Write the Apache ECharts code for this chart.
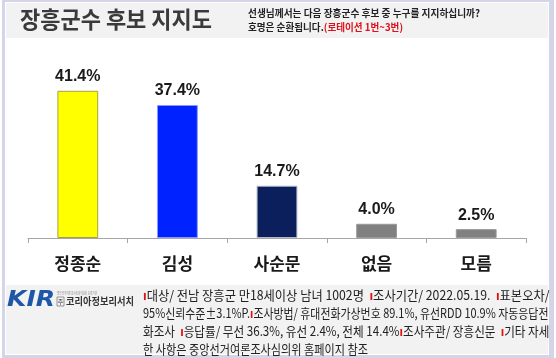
<!DOCTYPE html>
<html>
<head>
<meta charset="utf-8">
<script src="https://cdn.jsdelivr.net/npm/echarts@6/dist/echarts.min.js"></script>
<style>
html,body{margin:0;padding:0;background:#fff;}
#c{width:556px;height:358px;}
</style>
</head>
<body>
<div id="c"></div>
<script>
const categories = ['정종순', '김성', '사순문', '없음', '모름'];
const values = [41.4, 37.4, 14.7, 4.0, 2.5];
const barColors = ['#ffff00', '#0022ff', '#0a1f5c', '#808080', '#808080'];
const barBorders = ['#a8a040', '#8898ff', '#b0b8c8', '#9a9a9a', '#9a9a9a'];

const title = '장흥군수 후보 지지도';
const question1 = '선생님께서는 다음 장흥군수 후보 중 누구를 지지하십니까?';
const question2a = '호명은 순환됩니다.';
const question2b = '(로테이션 1번~3번)';
const footLines = [
  ['|', '대상/ 전남 장흥군 만18세이상 남녀 1002명  ', '|', '조사기간/ 2022.05.19.  ', '|', '표본오차/'],
  ['95%신뢰수준±3.1%P.', '|', '조사방법/ 휴대전화가상번호 89.1%, 유선RDD 10.9% 자동응답전'],
  ['화조사  ', '|', '응답률/ 무선 36.3%, 유선 2.4%, 전체 14.4%', '|', '조사주관/ 장흥신문  ', '|', '기타 자세'],
  ['한 사항은 중앙선거여론조사심의위 홈페이지 참조']
];

const KR = '"Noto Sans CJK KR", "Noto Sans", sans-serif';
const cv = document.createElement('canvas').getContext('2d');
function measure(text, font) { cv.font = font; return cv.measureText(text).width; }

function fitText(id, text, x, y, targetW, size, weight, color, rich, family) {
  const font = weight + ' ' + size + 'px ' + (family || KR);
  const plain = text.replace(/\{[a-z]+\|([^}]*)\}/g, '$1');
  const w = measure(plain, font);
  return {
    type: 'text', id: id, x: x, y: y, scaleX: targetW / w, z: 10,
    style: {
      text: text, x: 0, y: 0, fill: color, font: font,
      textVerticalAlign: 'middle', verticalAlign: 'middle', rich: rich || {}
    }
  };
}

const graphics = [];
// frame
graphics.push({type: 'rect', shape: {x: 2, y: 0, width: 552, height: 358}, style: {fill: '#d5d5ea'}, z: -30});
graphics.push({type: 'rect', shape: {x: 5, y: 2, width: 544, height: 353}, style: {fill: '#ffffff'}, z: -29});
graphics.push({type: 'rect', shape: {x: 6, y: 3, width: 542, height: 35}, style: {fill: '#f2f2f2'}, z: -28});
graphics.push({type: 'rect', shape: {x: 6, y: 285, width: 542, height: 69}, style: {fill: '#f2f2f2'}, z: -28});

graphics.push(fitText('t', title, 20, 19, 192, 23, 'bold', '#3a3a3a'));
graphics.push(fitText('q1', question1, 248, 13, 232, 10, 'bold', '#222'));
graphics.push(fitText('q2', question2a + '{r|' + question2b + '}', 248, 27.5, 155, 10, 'bold', '#222',
  {r: {fill: '#e0101a', fontSize: 10, fontWeight: 'bold', fontFamily: KR}}));

const footY = [295, 313.5, 331.5, 349];
const footW = [405, 405, 405, 225];
footLines.forEach((segs, i) => {
  const txt = segs.map(s => s === '|' ? '{r|ı}' : s).join('');
  graphics.push(fitText('f' + i, txt, 143, footY[i], footW[i], 13, 'normal', '#222',
    {r: {fill: '#e01010', fontSize: 13, fontWeight: 'bold', fontFamily: KR}}));
});

// logo
graphics.push(fitText('kir', 'KIR', 7, 300, 48, 22, 'italic 900', '#1f57a8', null, '"DejaVu Sans", sans-serif'));
graphics.push({type: 'rect', z: 10, shape: {x: 57, y: 297, width: 7, height: 9}, style: {fill: 'none', stroke: '#555', lineWidth: 0.6}});
graphics.push({type: 'text', x: 60.5, y: 301.5, z: 11,
  style: {text: '주', fill: '#333', font: '6px ' + KR, align: 'center', verticalAlign: 'middle', textAlign: 'center', textVerticalAlign: 'middle', x: 0, y: 0}});
graphics.push(fitText('logoname', '코리아정보리서치', 66, 301.5, 68, 10, 'bold', '#333'));
graphics.push(fitText('logosmall', '중앙선거여론조사심의위원회 등록기관', 57, 293, 40, 4, 'normal', '#888'));

const chart = echarts.init(document.getElementById('c'), null, {renderer: 'canvas'});
chart.setOption({
  animation: false,
  backgroundColor: 'transparent',
  graphic: {elements: graphics},
  grid: {left: 28, right: 30, top: 78, bottom: 120, containLabel: false},
  xAxis: {
    type: 'category', data: categories, z: 10,
    axisLine: {lineStyle: {color: '#a6a6a6', width: 1}},
    axisTick: {show: true, length: 5, lineStyle: {color: '#a6a6a6'}},
    axisLabel: {color: '#1a1a1a', fontSize: 17, fontWeight: 'bold', fontFamily: KR, margin: 17}
  },
  yAxis: {type: 'value', min: 0, max: 45, show: false, splitLine: {show: false}},
  series: [{
    type: 'bar', barWidth: '41%', z: 5,
    data: values.map((v, i) => ({value: v, itemStyle: {color: barColors[i], borderColor: barBorders[i], borderWidth: 1}})),
    label: {
      show: true, position: 'top', distance: 6, color: '#1a1a1a', fontSize: 16, fontWeight: 'bold',
      fontFamily: '"Liberation Sans", Arial, sans-serif',
      formatter: p => p.value.toFixed(1) + '%'
    }
  }]
});
</script>
</body>
</html>
